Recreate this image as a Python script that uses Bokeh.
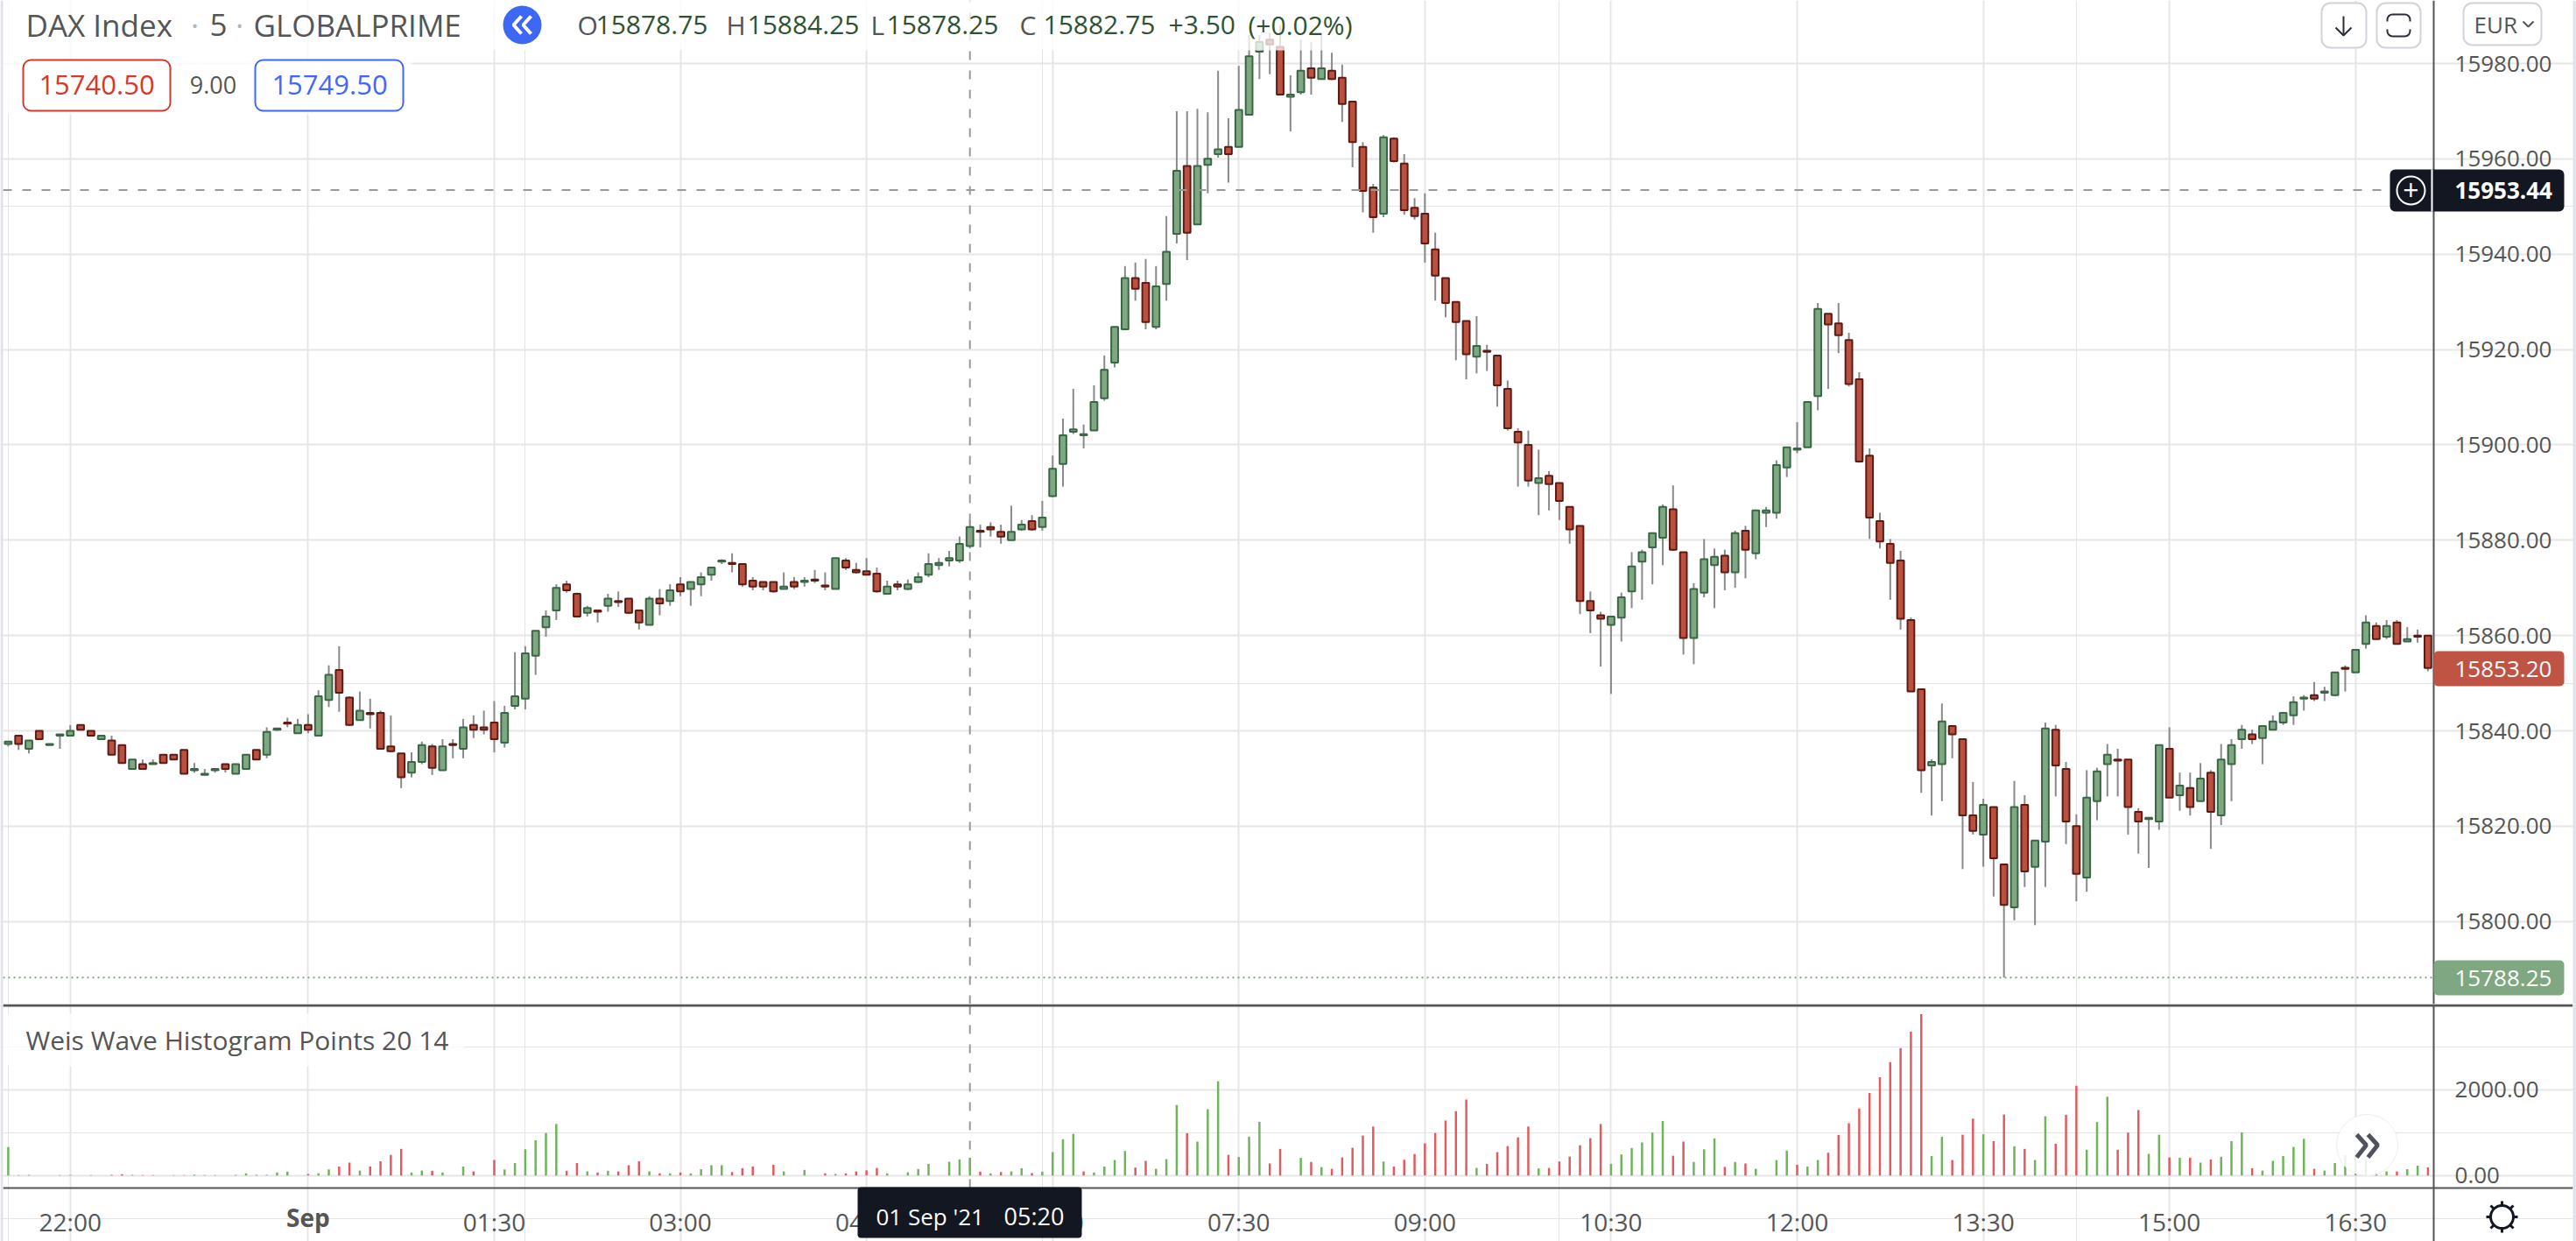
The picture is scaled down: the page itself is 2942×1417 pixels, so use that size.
from bokeh.plotting import figure
from bokeh.layouts import column
from bokeh.models import (BoxAnnotation, ColumnDataSource, FixedTicker, Grid, Label,
                          LinearAxis, NumeralTickFormatter)
from bokeh.embed import file_html
from bokeh.resources import INLINE

opens = [15837.25,15839,15836.25,15840,15837,15839,15839,15841.25,15840,15838.25,
15838,15837,15832,15833,15833,15835,15835,15836,15831.75,15830.75,
15831.75,15833,15831,15832,15836,15835,15840.25,15841.75,15839.5,15841.25,
15839,15846.5,15852.75,15847,15842.25,15843.75,15843.75,15836.75,15835.25,15831.25,
15833.5,15836.75,15831.75,15837.25,15836.25,15841.25,15840.75,15841.75,15837.5,15845.25,
15846.75,15855.75,15861.75,15865.25,15870.75,15868.75,15864.75,15865.25,15866.25,15867.25,
15867.75,15865.25,15862.25,15867.75,15867.25,15870.75,15869.75,15870.75,15872.75,15875.5,
15875.25,15875,15871.5,15871.25,15871.25,15869.75,15871.25,15871.25,15871.75,15870.5,
15869.75,15875.75,15873.75,15873.5,15873,15868.75,15870.75,15869.75,15871.25,15872.75,
15874.75,15875.75,15875.75,15878.75,15882,15882.75,15881.75,15880,15882.25,15884,
15882.75,15889.25,15896,15902.75,15902,15903,15909.75,15917.25,15924.25,15935,
15934,15924.75,15933.75,15944.25,15958.5,15946.25,15958.75,15961,15962.5,15962.5,
15969.25,15982.5,15985,15983.5,15973,15974,15979,15976.75,15978.5,15977,
15972,15962.5,15954,15948.5,15964.25,15959,15949.75,15948.5,15941,15935,
15930,15926,15918.5,15919.75,15918.75,15911.75,15902.75,15900,15892,15893.5,
15892,15887,15883,15867.25,15864.25,15862.25,15863.75,15869.25,15875.5,15878.5,
15880.5,15886.5,15877.5,15859.5,15869,15874.75,15876.75,15873.25,15882,15877.25,
15885.75,15885.75,15895.25,15899,15899.5,15910.25,15927.5,15925.5,15922,15913.75,
15897.75,15884,15879.25,15875.75,15863.25,15848.75,15832.75,15833,15841,15838.25,
15822.25,15818.25,15824,15812,15803,15824.5,15811.5,15816.75,15840.25,15832,
15820,15809.25,15825.25,15833,15834,15834,15823,15821.5,15821,15836.25,
15826.5,15828,15825.25,15831.25,15822.25,15833,15838.25,15839.25,15838.5,15840.25,
15841.75,15843.25,15846.75,15847.5,15848,15847.5,15853.25,15852.25,15858.25,15862,
15859.75,15862.75,15858.75,15860,15860]

highs = [15837.75,15839,15838,15840,15837.25,15839.25,15841.25,15841.25,15840,15839,
15839,15837,15834,15834,15834,15835,15835,15836,15833.25,15832,
15832,15833,15833,15835,15836,15840.75,15840.5,15842.75,15842.5,15843.5,
15848.5,15853.75,15857.75,15847.25,15848.25,15846.75,15844.25,15843.25,15835.25,15835.5,
15837.75,15837.25,15838.25,15838.25,15842.5,15843.25,15844.25,15846.25,15845.25,15856.5,
15857.75,15861,15865.25,15870.75,15871.5,15869,15866.25,15865.25,15868.75,15869.25,
15867.75,15865.25,15868.25,15869.75,15870.75,15872.25,15871.25,15873.25,15874.25,15876,
15877.25,15875,15872.25,15871.25,15871.25,15873.25,15872.25,15872.25,15873.75,15873.25,
15876.25,15876.25,15875.25,15876.25,15874.25,15871.5,15871.5,15871.75,15873.25,15877.25,
15876.25,15877.75,15880.75,15884.25,15883.25,15883.75,15883.25,15887.25,15884.25,15885.25,
15888.25,15897.75,15905.5,15911.75,15904.25,15912.5,15918.75,15924.75,15937.5,15938.25,
15939,15937.5,15948,15970,15970,15970.5,15969.75,15978.5,15968.5,15979.5,
15986,15986,15986.5,15988,15977.5,15985,15984.5,15986,15982.25,15979.75,
15972,15963.5,15954.75,15965,15964.5,15961,15951.75,15952.75,15944.5,15935,
15930,15926,15927,15921,15918.75,15913.5,15903.5,15903,15899,15894.5,
15892,15887,15883,15869.25,15865,15864,15869,15877.5,15878,15881.5,
15887.5,15891.5,15877.5,15871,15880.25,15878.25,15878,15882,15883,15886.25,
15887,15896.75,15899.5,15904.75,15909,15929.75,15927.5,15929.75,15923.5,15915.25,
15899.25,15885.75,15880.25,15877.75,15863.75,15848.75,15834,15845.75,15841,15838.25,
15829.25,15825.75,15824,15812,15829.5,15826.5,15817,15841.75,15841.25,15833.5,
15822.5,15831.75,15832.25,15837.25,15836.25,15834,15823.75,15821.75,15837,15840.75,
15831.25,15831.25,15833.25,15831.75,15837.25,15838.25,15841.25,15840.25,15841,15843.25,
15844,15847.25,15847.5,15850.25,15849.25,15852.25,15853.75,15857,15864.25,15862.75,
15863.25,15863.25,15861.75,15861.25,15860]

lows = [15836.75,15836,15835.25,15838.25,15837,15836.25,15839,15840.25,15839,15838.25,
15835,15833.25,15832,15832,15833,15833.25,15834,15831,15831.25,15830.75,
15831.25,15831.25,15831,15832,15834,15834.25,15840,15840.75,15839.5,15839.5,
15839,15845,15844,15841,15842.25,15840.5,15836.25,15835.5,15828,15830.25,
15833,15830.75,15831.75,15834.25,15834.25,15838.5,15839.25,15835.5,15836.5,15844.5,
15844.5,15851.75,15859.75,15863.25,15869,15864,15864,15862.75,15865,15866,
15864.5,15861.25,15862.25,15864.25,15866.25,15868.25,15866.25,15868.25,15871.5,15875,
15873.25,15870.25,15869.5,15869.5,15869,15869.75,15869.75,15870.25,15871,15869.5,
15869.75,15873.75,15873,15872.75,15869,15868.75,15869.5,15869.5,15871,15872.25,
15873.75,15874.5,15875.25,15878.25,15878.5,15880.75,15879.25,15880,15882,15882,
15882,15889,15891.25,15902.25,15899.25,15903,15909.25,15916.25,15924.25,15930.25,
15924.25,15924.25,15930.25,15942.25,15938.75,15946.25,15952.75,15960.25,15955,15962.5,
15969.25,15976.75,15977.75,15973.5,15965.75,15973.5,15973.5,15976.75,15976.5,15967.75,
15958.25,15948.75,15944.5,15947.75,15959.25,15948.25,15947.25,15938.25,15930.25,15926.75,
15917.75,15913.75,15915,15915.5,15908,15903,15891.25,15891.25,15885.25,15886.25,
15884.25,15879.25,15864.5,15860.5,15853.5,15847.75,15858.75,15865.75,15867.5,15870.75,
15874.75,15877.75,15856,15854,15868,15865.75,15869.5,15870,15872,15876,
15882.75,15884.5,15893.25,15898.25,15899.5,15907.25,15911.75,15919.25,15912.25,15896.25,
15880.25,15878.25,15867.5,15861.25,15848.25,15827,15822.25,15825.25,15834.25,15811,
15818.25,15811.5,15805.25,15788.25,15800.25,15807.25,15799.25,15807.25,15826.25,15816.25,
15804.25,15806.25,15821.25,15826.25,15826.25,15818.25,15814.25,15811.25,15819.25,15826,
15823.25,15822.25,15825.25,15815.25,15820.25,15825.25,15836.25,15837.25,15833,15840.25,
15841.25,15841.25,15844.25,15846.25,15846.25,15847.25,15848.25,15852.25,15857.25,15859.25,
15859.25,15858.25,15858.75,15858.5,15852.5]

closes = [15837.75,15837.25,15838,15838.25,15837.25,15839.25,15840,15840.25,15839,15839,
15835,15833.25,15834,15832,15833.25,15833.25,15834,15831,15832,15831,
15832,15832,15833,15835,15834,15839.75,15840.5,15841.5,15841.25,15840.25,
15847.25,15851.75,15848,15841.25,15844.25,15843.5,15836.25,15835.75,15830.25,15833.5,
15837,15832.25,15836.75,15837,15840.75,15840.25,15840.25,15838.25,15843.75,15847.25,
15856.25,15861,15864,15870,15869.5,15864,15865.75,15865,15867.75,15867,
15864.75,15862.75,15867.75,15866.75,15869.5,15869.25,15871.25,15872.25,15874.25,15875.75,
15875,15870.75,15870.25,15870.25,15869.25,15870.25,15870.25,15871.5,15871.5,15870.25,
15876.25,15874.25,15873.25,15872.75,15869.25,15870.25,15870.25,15870.75,15872.25,15875,
15875.25,15876.25,15879.25,15882.75,15881.75,15882.25,15880.75,15881.75,15883.25,15882.25,
15884.75,15895,15902,15903.25,15902.25,15909,15915.75,15924.75,15935,15932.75,
15925.75,15933.25,15940.5,15957.5,15944.5,15958.5,15960,15962,15961,15970.25,
15981.5,15984.5,15984,15973.5,15973.5,15978.5,15977,15979,15976.75,15971.5,
15963.5,15953.25,15947.75,15964.5,15959.5,15949.25,15948,15942.25,15935.5,15929.75,
15925.75,15919,15920.75,15919.5,15912.5,15903.5,15900.5,15892.5,15893,15891.75,
15888.25,15882.25,15867.25,15865.25,15863.5,15864,15868,15874.5,15877.5,15881.5,
15887,15878,15859.5,15869.75,15876,15876.5,15873.25,15881.5,15878,15886.25,
15886.25,15895.75,15899.5,15899.25,15909,15928.5,15925.25,15923,15912.75,15896.5,
15884.75,15879.75,15875.25,15863.5,15848.25,15831.75,15833.5,15842,15839.25,15822.25,
15819,15824.5,15813.25,15803.5,15824,15810.5,15817,15840.5,15832.75,15821,
15810,15826,15831.5,15835,15833.75,15824,15821,15821.75,15837,15826,
15828.5,15824,15830,15823,15834,15837,15840.25,15838.25,15841,15842,
15843.75,15846,15847,15846.75,15848.25,15852.25,15853,15857,15862.75,15859.25,
15862,15858.25,15859.25,15859.75,15853.2]

wave_values = [660,10,15,0,0,10,15,0,10,0,15,30,15,10,10,0,10,10,20,10,
10,0,15,50,15,15,70,90,0,35,50,140,210,300,115,210,330,480,620,70,
115,110,70,0,210,95,0,360,140,290,610,820,990,1200,110,290,95,70,110,95,
240,330,95,50,50,70,50,145,240,240,80,170,210,0,250,95,0,130,0,50,
35,50,95,120,175,50,0,75,150,270,0,320,375,415,90,50,80,95,170,55,
90,545,845,970,95,70,210,360,570,185,340,155,380,1640,985,790,1545,2200,480,430,
905,1250,280,620,0,410,315,195,155,420,645,930,1140,325,210,365,500,750,990,1280,
1500,1770,175,270,545,685,890,1140,165,175,325,440,705,870,1200,270,490,640,770,1000,
1270,460,790,315,610,865,200,315,280,155,0,360,580,250,210,360,530,945,1220,1560,
1920,2290,2640,2970,3350,3760,455,900,360,950,1325,960,800,1420,680,620,360,1380,740,1415,
2090,600,1245,1835,600,1000,1525,505,950,420,415,415,300,375,435,800,1005,170,115,340,
455,665,855,155,115,290,475,580,375,70,95,95,145,230,190]

wave_sides = "".join([
    "GRGGGRGGRG", "RRGRRGGRGR", "RGGGRGGGGR", "GGRRGRRRRG", "GRGGGRGRGG",
    "GGGGRRGRGR", "RRGRGRGGGG", "RRRGRGGGGR", "GRRRRGGGGG", "GGGGRGRGGR",
    "GGGGRGGGGR", "RGGGRGGGRG", "GGRRGGRGRR", "RRRGRRRRRR", "RRGRRRRRGR",
    "RRRRRGGGGG", "GRRGGGRGRG", "GGGRGGRRRR", "RRRRRRGGRR", "RGRRGRGGRR",
    "RGGGRRRGGR", "GRGRGGGRGG", "GGGRGGGGGR", "GRGGR"])

tick_slots = [6, 29, 47, 65, 83, 101, 119, 137, 155, 173, 191, 209, 227]
tick_names = ["22:00", "", "01:30", "03:00", "04:30", "06:00", "07:30", "09:00", "10:30", "12:00", "13:30", "15:00", "16:30"]
price_ticks = [15800, 15820, 15840, 15860, 15880, 15900, 15920, 15940, 15960, 15980]
wave_ticks = [0, 2000]
crosshair_slot = 93
crosshair_price = 15953.44
session_low = 15788.25

UP, UP_LINE, DOWN, DOWN_LINE = "#7fa882", "#3a6646", "#b85140", "#5e1a14"
WICK, GRID, AXIS, TEXT, DARK = "#8a8a8a", "#e6e6e6", "#555555", "#555555", "#131722"
CROSS = "#999999"
FONT = "Open Sans"
n = len(opens)
xs = list(range(n))
X_FIRST, X_AXIS, X_LAST = -0.5, 234.56, 248.0  # plot edge, price-axis slot, page edge
PANE_Y = (15782.68, 15993.23)
Y_TOP, Y_PANE_BOTTOM, Y_PAGE_BOTTOM = 3994, -292, -1537
X_VIEW = (-0.7536, 248.36)
PX_PER_SLOT = 2942 / (X_VIEW[1] - X_VIEW[0])


def px_x(x):
    return X_VIEW[0] + x / PX_PER_SLOT


def px_main(y):
    return PANE_Y[1] - y * (PANE_Y[1] - PANE_Y[0]) / 1146


def px_hist(y):
    return Y_TOP - y * (Y_TOP - Y_PAGE_BOTTOM) / 271


def icon(fig, to_y, strokes, color, width):
    fig.multi_line([[px_x(x) for x, _ in s] for s in strokes],
                   [[to_y(y) for _, y in s] for s in strokes],
                   line_color=color, line_width=width, level="overlay")


def box(fig, l, t, r, b, fill, alpha=1.0, line=None, lw=0, radius=0):
    fig.add_layout(BoxAnnotation(left=l, right=r, top=t, bottom=b,
                                 left_units="canvas", right_units="canvas",
                                 top_units="canvas", bottom_units="canvas",
                                 fill_color=fill, fill_alpha=alpha,
                                 line_color=line, line_width=lw, line_alpha=1.0 if line else 0.0,
                                 border_radius=radius))


def label(fig, x, y, text, size=26, color=TEXT, align="left", font=FONT, style="normal"):
    fig.add_layout(Label(x=x, y=y, x_units="canvas", y_units="canvas", text=text,
                         text_font=font, text_font_size=f"{size}px", text_color=color,
                         text_align=align, text_baseline="middle", text_font_style=style))


def style_axis(a):
    a.axis_line_color = AXIS
    a.axis_line_width = 2
    a.major_tick_line_color = None
    a.minor_tick_line_color = None
    a.major_tick_out = 0
    a.major_tick_in = 0
    a.minor_tick_out = 0
    a.minor_tick_in = 0
    a.major_label_text_font = FONT
    a.major_label_text_font_size = "26px"
    a.major_label_text_color = TEXT


common = dict(output_backend="svg", toolbar_location=None, tools="", width=2942,
              x_range=X_VIEW, min_border_left=0, min_border_right=0,
              min_border_top=0, min_border_bottom=0,
              background_fill_color="white", border_fill_color="white",
              x_axis_location=None, y_axis_location=None)

main = figure(height=1146, y_range=PANE_Y, **common)
main.outline_line_color = None
main.add_layout(Grid(dimension=0, ticker=FixedTicker(ticks=tick_slots), grid_line_color=GRID, grid_line_width=2))
main.add_layout(Grid(dimension=1, ticker=FixedTicker(ticks=price_ticks), grid_line_color=GRID, grid_line_width=2,
                     bounds=(X_FIRST, X_AXIS)))

src = ColumnDataSource(dict(
    x=xs, o=opens, h=highs, l=lows, c=closes,
    top=[max(a, b) for a, b in zip(opens, closes)],
    bot=[min(a, b) for a, b in zip(opens, closes)],
    fill=[UP if c >= o else DOWN for o, c in zip(opens, closes)],
    edge=[UP_LINE if c >= o else DOWN_LINE for o, c in zip(opens, closes)],
))
main.segment("x", "h", "x", "l", source=src, line_color=WICK, line_width=2)
main.vbar(x="x", top="top", bottom="bot", width=0.66, source=src,
          fill_color="fill", line_color="edge", line_width=2)

main.segment([crosshair_slot], [PANE_Y[0]], [crosshair_slot], [PANE_Y[1]], line_color=CROSS, line_width=2, line_dash="10 12")
main.segment([X_FIRST], [crosshair_price], [X_AXIS], [crosshair_price], line_color=CROSS, line_width=2, line_dash="10 12")
main.segment([X_FIRST], [session_low], [X_AXIS], [session_low], line_color=UP, line_width=2, line_dash="2 4")

ax = LinearAxis(ticker=FixedTicker(ticks=price_ticks), formatter=NumeralTickFormatter(format="0.00"),
                fixed_location=X_AXIS)
style_axis(ax)
ax.major_label_standoff = 24
main.add_layout(ax, "right")

box(main, 3, 0, 1555, 57, "white", alpha=0.75)
box(main, 3, 57, 470, 130, "white", alpha=0.75)
box(main, 0, 0, 3, 1146, "#e0e3eb")
box(main, 2938, 0, 2942, 1146, "#e0e3eb")

label(main, 29, 28, "DAX Index", 35)
label(main, 222, 28, "·", 35, "#b2b5be", "center")
label(main, 239, 28, "5", 35)
label(main, 273, 28, "·", 35, "#b2b5be", "center")
label(main, 289, 28, "GLOBALPRIME", 35)
box(main, 574, 6, 618, 50, "#3d68f5", radius=22)
icon(main, px_main, [[(595, 18), (586, 28), (595, 38)], [(606, 18), (597, 28), (606, 38)]], "white", 4)

GREEN_TXT = "#2f5233"
for x0, x1, key, val in [(659, 680, "O", "15878.75"), (829, 853, "H", "15884.25"),
                         (994, 1012, "L", "15878.25"), (1164, 1191, "C", "15882.75")]:
    label(main, x0, 28, key, 30)
    label(main, x1, 28, val, 30, GREEN_TXT)
label(main, 1334, 28, "+3.50", 30, GREEN_TXT)
label(main, 1425, 28, "(+0.02%)", 30, GREEN_TXT)

box(main, 26, 68, 194, 126, "white", line="#d5392e", lw=2, radius=9)
label(main, 110, 96, "15740.50", 31, "#d5392e", "center")
label(main, 243, 96, "9.00", 27, TEXT, "center")
box(main, 291, 68, 460, 126, "white", line="#3f67ff", lw=2, radius=9)
label(main, 376, 96, "15749.50", 31, "#3f67ff", "center")

for l, r in [(2651, 2702), (2714, 2764)]:
    box(main, l, 3, r, 54, "white", line="#d1d4dc", lw=2, radius=10)
icon(main, px_main, [[(2676, 18), (2676, 40)], [(2667, 31), (2676, 40), (2685, 31)]], "#2a2e39", 2)
box(main, 2726, 16, 2752, 41, "white", line="#2a2e39", lw=2, radius=6)
box(main, 2722, 24, 2756, 33, "white")
box(main, 2813, 3, 2902, 51, "white", line="#d1d4dc", lw=2, radius=10)
label(main, 2825, 27, "EUR", 26, "#555555")
icon(main, px_main, [[(2881, 24), (2887, 30), (2893, 24)]], "#555555", 2)

box(main, 2779, 743, 2928, 783, "#bf5445", radius=5)
label(main, 2803, 763, "15853.20", 26, "white")
box(main, 2779, 1096, 2928, 1136, UP, radius=5)
label(main, 2803, 1116, "15788.25", 26, "white")
box(main, 2729, 193, 2928, 241, DARK, radius=6)
box(main, 2737, 201, 2769, 233, DARK, line="white", lw=2, radius=16)
label(main, 2753, 216, "+", 32, "white", "center")
box(main, 2776, 193, 2778, 241, "white")
label(main, 2803, 217, "15953.44", 26, "white", style="bold")

hist = figure(height=271, y_range=(Y_PAGE_BOTTOM, Y_TOP), **common)
hist.outline_line_color = None
hist.add_layout(Grid(dimension=0, ticker=FixedTicker(ticks=tick_slots), grid_line_color=GRID, grid_line_width=2,
                     bounds=(Y_PANE_BOTTOM, Y_TOP)))
hist.add_layout(Grid(dimension=1, ticker=FixedTicker(ticks=wave_ticks), grid_line_color=GRID, grid_line_width=2,
                     bounds=(X_FIRST, X_AXIS)))

wave_src = ColumnDataSource(dict(x=xs, top=wave_values,
                                 color=["#6fb35a" if s == "G" else "#e25a5e" for s in wave_sides]))
hist.vbar(x="x", top="top", bottom=0, width=0.21, source=wave_src, fill_color="color", line_color=None)
hist.segment([crosshair_slot], [Y_PANE_BOTTOM], [crosshair_slot], [Y_TOP], line_color=CROSS, line_width=2, line_dash="10 12")
hist.segment([X_FIRST], [3965], [X_LAST], [3965], line_color=AXIS, line_width=3)

hy = LinearAxis(ticker=FixedTicker(ticks=wave_ticks), formatter=NumeralTickFormatter(format="0.00"),
                fixed_location=X_AXIS)
style_axis(hy)
hy.major_label_standoff = 24
hist.add_layout(hy, "right")

hx = LinearAxis(ticker=FixedTicker(ticks=tick_slots),
                major_label_overrides={t: s for t, s in zip(tick_slots, tick_names)},
                fixed_location=Y_PANE_BOTTOM, bounds=(X_FIRST, X_LAST))
style_axis(hx)
hx.major_label_text_font_size = "28px"
hx.major_label_standoff = 20
hist.add_layout(hx, "below")

box(hist, 3, 11, 530, 71, "white", alpha=0.75)
label(hist, 29, 41, "Weis Wave Histogram Points 20 14", 30)
hist.add_layout(Label(x=29, y=243, x_units="data", y_units="canvas", text="Sep", text_font=FONT,
                      text_font_size="28px", text_font_style="bold", text_color=TEXT,
                      text_align="center", text_baseline="middle"))
box(hist, 979, 209, 1235, 267, DARK, radius=4)
label(hist, 1000, 242, "01 Sep '21", 26, "white")
label(hist, 1146, 242, "05:20", 27, "white")
box(hist, 2668, 126, 2738, 196, "white", alpha=0.85, line="#eeeeee", lw=1, radius=35)
icon(hist, px_hist, [[(2691, 149), (2702, 161), (2691, 175)], [(2704, 149), (2715, 161), (2704, 175)]], "#50535e", 5)

# sun icon of the theme switch, drawn about its centre at (2857, 243)
box(hist, 2844, 230, 2870, 256, "white", line=DARK, lw=3, radius=13)
icon(hist, px_hist, [[(2857, 225), (2857, 230)], [(2857, 256), (2857, 261)],
                     [(2839, 243), (2844, 243)], [(2870, 243), (2875, 243)],
                     [(2844, 230), (2848, 234)], [(2870, 230), (2866, 234)],
                     [(2844, 256), (2848, 252)], [(2870, 256), (2866, 252)]], DARK, 3)
box(hist, 0, 0, 3, 271, "#e0e3eb")
box(hist, 2938, 0, 2942, 271, "#e0e3eb")

page = column(main, hist, spacing=0)
open("out.html", "w").write(file_html(page, INLINE))
